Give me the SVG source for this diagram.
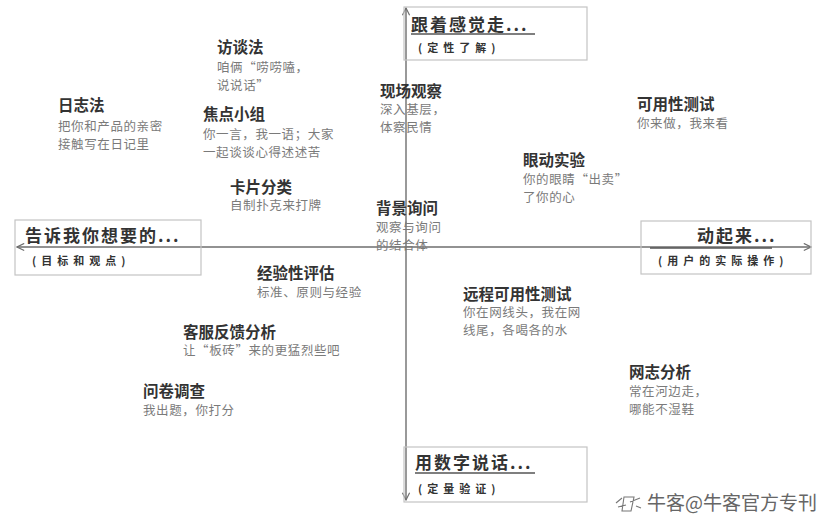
<svg xmlns="http://www.w3.org/2000/svg" width="831" height="522" viewBox="0 0 831 522">
<style>
text{font-family:"Noto Sans CJK SC","Noto Sans",sans-serif}
.t{font-size:15.5px;font-weight:bold;fill:#333}
.s{font-size:12.5px;fill:#7a7a7a;letter-spacing:0.6px}
.h{font-size:17px;font-weight:bold;fill:#333;letter-spacing:2px}
.hs{font-size:11px;font-weight:bold;fill:#333;letter-spacing:5px}
.box{fill:none;stroke:#c4c4c4;stroke-width:1.2}
.ul{stroke:#555;stroke-width:1.3}
.ax{stroke:#6e6e6e;stroke-width:1.4;fill:none}
</style>
<defs>
<marker id="ah" viewBox="0 0 10 10" refX="9" refY="5" markerWidth="9" markerHeight="9" orient="auto-start-reverse" markerUnits="userSpaceOnUse">
<path d="M1,1 L9,5 L1,9" fill="none" stroke="#6e6e6e" stroke-width="1.3"/>
</marker>
</defs>
<rect width="831" height="522" fill="#fff"/>
<g id="connectors">
<line class="ax" x1="406" y1="8" x2="406" y2="500" marker-start="url(#ah)" marker-end="url(#ah)"/>
<line class="ax" x1="17" y1="247" x2="811" y2="247" marker-start="url(#ah)" marker-end="url(#ah)"/>
</g>
<g id="box-top">
<rect class="box" x="404" y="7" width="183" height="53"/>
<text class="h" x="411" y="31">跟着感觉走...</text>
<line class="ul" x1="411" y1="34" x2="535" y2="34"/>
<text class="hs" x="418" y="52">(定性了解)</text>
</g>
<g id="box-left">
<rect class="box" x="15" y="220" width="186" height="55"/>
<text class="h" x="25" y="242">告诉我你想要的...</text>
<text class="hs" x="32" y="265">(目标和观点)</text>
</g>
<g id="box-right">
<rect class="box" x="641" y="221" width="170" height="53"/>
<text class="h" x="697" y="242">动起来...</text>
<line class="ul" x1="650" y1="248" x2="772" y2="248"/>
<text class="hs" x="658" y="265">(用户的实际操作)</text>
</g>
<g id="box-bottom">
<rect class="box" x="404" y="447" width="183" height="55"/>
<text class="h" x="415" y="469">用数字说话...</text>
<line class="ul" x1="415" y1="473" x2="535" y2="473"/>
<text class="hs" x="418" y="493">(定量验证)</text>
</g>
<g id="n-fangtan">
<text class="t" x="217" y="53">访谈法</text>
<text class="s" x="217" y="72">咱俩“唠唠嗑，</text>
<text class="s" x="217" y="90">说说话”</text>
</g>
<g id="n-rizhi">
<text class="t" x="58" y="111">日志法</text>
<text class="s" x="58" y="131">把你和产品的亲密</text>
<text class="s" x="58" y="149">接触写在日记里</text>
</g>
<g id="n-jiaodian">
<text class="t" x="203" y="120">焦点小组</text>
<text class="s" x="203" y="139">你一言，我一语；大家</text>
<text class="s" x="203" y="157">一起谈谈心得述述苦</text>
</g>
<g id="n-kapian">
<text class="t" x="230" y="193">卡片分类</text>
<text class="s" x="230" y="210">自制扑克来打牌</text>
</g>
<g id="n-xianchang">
<text class="t" x="380" y="97">现场观察</text>
<text class="s" x="380" y="114">深入基层，</text>
<text class="s" x="380" y="132">体察民情</text>
</g>
<g id="n-beijing">
<text class="t" x="376" y="214">背景询问</text>
<text class="s" x="376" y="232">观察与询问</text>
<text class="s" x="376" y="250">的结合体</text>
</g>
<g id="n-keyong">
<text class="t" x="637" y="110">可用性测试</text>
<text class="s" x="637" y="128">你来做，我来看</text>
</g>
<g id="n-yandong">
<text class="t" x="523" y="166">眼动实验</text>
<text class="s" x="523" y="184">你的眼睛“出卖”</text>
<text class="s" x="523" y="202">了你的心</text>
</g>
<g id="n-jingyan">
<text class="t" x="257" y="279">经验性评估</text>
<text class="s" x="257" y="297">标准、原则与经验</text>
</g>
<g id="n-kefu">
<text class="t" x="183" y="338">客服反馈分析</text>
<text class="s" x="183" y="355">让“板砖”来的更猛烈些吧</text>
</g>
<g id="n-wenjuan">
<text class="t" x="143" y="397">问卷调查</text>
<text class="s" x="143" y="415">我出题，你打分</text>
</g>
<g id="n-yuancheng">
<text class="t" x="463" y="300">远程可用性测试</text>
<text class="s" x="463" y="317">你在网线头，我在网</text>
<text class="s" x="463" y="335">线尾，各喝各的水</text>
</g>
<g id="n-wangzhi">
<text class="t" x="629" y="378">网志分析</text>
<text class="s" x="629" y="396">常在河边走，</text>
<text class="s" x="629" y="414">哪能不湿鞋</text>
</g>
<g id="watermark">
<path d="M616,503 l6,-5 M618,507 l8,-2 M624,497 h10 l-3,14 h-9 z M630,502 l10,-4 M636,506 l5,2" fill="none" stroke="#777" stroke-width="1.1"/>
<text x="647" y="510" font-size="19" fill="#666">牛客@牛客官方专刊</text>
</g>
</svg>
